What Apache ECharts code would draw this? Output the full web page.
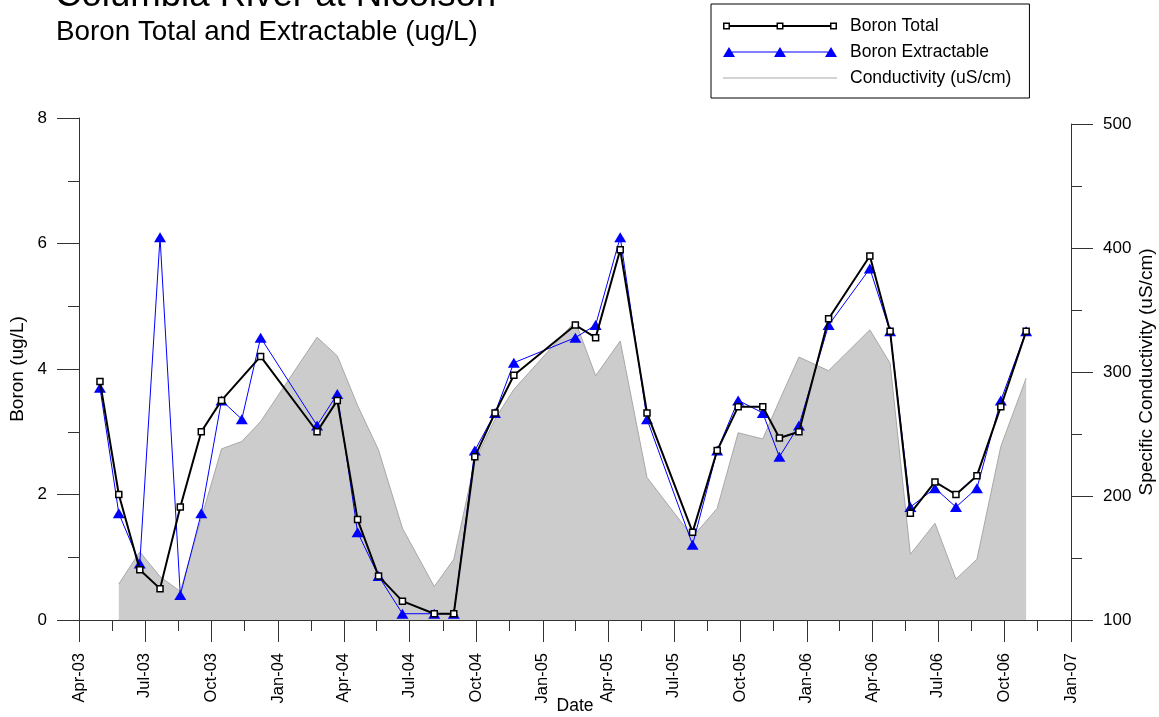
<!DOCTYPE html>
<html>
<head>
<meta charset="utf-8">
<script src="https://cdn.jsdelivr.net/npm/echarts@6/dist/echarts.min.js"></script>
<style>
  html, body { margin: 0; padding: 0; background: #ffffff; }
  #chart { width: 1159px; height: 717px; }
</style>
</head>
<body>
<div id="chart"></div>
<script>
// Sampling dates and results, Columbia River at Nicolson
const boronTotalDates = [
  '2003-04-30','2003-05-26','2003-06-24','2003-07-22','2003-08-19','2003-09-17','2003-10-15','2003-12-08',
  '2004-02-24','2004-03-23','2004-04-20','2004-05-19','2004-06-21','2004-08-04','2004-08-31','2004-09-29',
  '2004-10-27','2004-11-22','2005-02-15','2005-03-15','2005-04-18','2005-05-25','2005-07-27','2005-08-30',
  '2005-09-28','2005-11-01','2005-11-24','2005-12-21','2006-01-31','2006-03-29','2006-04-26','2006-05-24',
  '2006-06-27','2006-07-26','2006-08-24','2006-09-26','2006-10-31'
];
const boronTotal = [
  3.8, 2.0, 0.8, 0.5, 1.8, 3.0, 3.5, 4.2,
  3.0, 3.5, 1.6, 0.7, 0.3, 0.1, 0.1, 2.6,
  3.3, 3.9, 4.7, 4.5, 5.9, 3.3, 1.4, 2.7,
  3.4, 3.4, 2.9, 3.0, 4.8, 5.8, 4.6, 1.7,
  2.2, 2.0, 2.3, 3.4, 4.6
];

const boronExtDates = [
  '2003-04-30','2003-05-26','2003-06-24','2003-07-22','2003-08-19','2003-09-17','2003-10-15','2003-11-12',
  '2003-12-08','2004-02-24','2004-03-23','2004-04-20','2004-05-19','2004-06-21','2004-08-04','2004-08-31',
  '2004-09-29','2004-10-27','2004-11-22','2005-02-15','2005-03-15','2005-04-18','2005-05-25','2005-07-27',
  '2005-08-30','2005-09-28','2005-11-01','2005-11-24','2005-12-21','2006-01-31','2006-03-29','2006-04-26',
  '2006-05-24','2006-06-27','2006-07-26','2006-08-24','2006-09-26','2006-10-31'
];
const boronExtractable = [
  3.7, 1.7, 0.9, 6.1, 0.4, 1.7, 3.5, 3.2,
  4.5, 3.1, 3.6, 1.4, 0.7, 0.1, 0.1, 0.1,
  2.7, 3.3, 4.1, 4.5, 4.7, 6.1, 3.2, 1.2,
  2.7, 3.5, 3.3, 2.6, 3.1, 4.7, 5.6, 4.6,
  1.8, 2.1, 1.8, 2.1, 3.5, 4.6
];

const condDates = [
  '2003-05-26','2003-06-24','2003-07-22','2003-08-19','2003-09-17','2003-10-15','2003-11-12','2003-12-08',
  '2004-02-24','2004-03-23','2004-04-20','2004-05-19','2004-06-21','2004-08-04','2004-08-31','2004-09-29',
  '2004-10-27','2004-11-22','2005-02-15','2005-03-15','2005-04-18','2005-05-25','2005-07-27','2005-08-30',
  '2005-09-28','2005-11-01','2005-11-24','2005-12-21','2006-01-31','2006-03-29','2006-04-26','2006-05-24',
  '2006-06-27','2006-07-26','2006-08-24','2006-09-26','2006-10-31'
];
const conductivity = [
  129, 155, 135, 123, 182, 238, 244, 260,
  328, 313, 273, 237, 174, 127, 149, 228,
  262, 286, 341, 297, 325, 215, 167, 190,
  251, 246, 277, 312, 301, 334, 307, 153,
  178, 133, 149, 240, 295
];

// Quarterly date ticks on the x axis
const quarterTicks = [
  '2003-04-01','2003-07-01','2003-10-01','2004-01-01','2004-04-01','2004-07-01','2004-10-01',
  '2005-01-01','2005-04-01','2005-07-01','2005-10-01','2006-01-01','2006-04-01','2006-07-01',
  '2006-10-01','2007-01-01'
];
const monthNames = ['Jan','Feb','Mar','Apr','May','Jun','Jul','Aug','Sep','Oct','Nov','Dec'];

const FONT = '"Liberation Sans", Arial, Helvetica, sans-serif';
const AXIS_COLOR = '#333333';

const toTime = s => new Date(s + 'T00:00:00Z').getTime();
const pairs = (dates, vals) => dates.map((d, i) => [toTime(d), vals[i]]);

const quarterTimes = quarterTicks.map(toTime);
// short ticks halfway between the labelled quarters
const halfTimes = quarterTimes.slice(1).map((t, i) => (t + quarterTimes[i]) / 2);
const xMin = quarterTimes[0];
const xMax = quarterTimes[quarterTimes.length - 1];

const dateLabel = v => {
  const d = new Date(v);
  return monthNames[d.getUTCMonth()] + '-' + String(d.getUTCFullYear() % 100).padStart(2, '0');
};

// Legend glyphs: line with three markers
const totalIcon = 'path://' +
  'M0 3.5H7V10.5H0Z M1.5 5V9H5.5V5Z ' +
  'M7 6H53.5V8H7Z ' +
  'M53.5 3.5H60.5V10.5H53.5Z M55 5V9H59V5Z ' +
  'M60.5 6H107V8H60.5Z ' +
  'M107 3.5H114V10.5H107Z M108.5 5V9H112.5V5Z';
const extIcon = 'path://' +
  'M0 12L6 2L12 12Z ' +
  'M6 6.5H108V7.5H6Z ' +
  'M51 12L57 2L63 12Z ' +
  'M102 12L108 2L114 12Z';
const condIcon = 'path://M0 0H114V1H0Z';

const chart = echarts.init(document.getElementById('chart'), null, { renderer: 'canvas' });

chart.setOption({
  animation: false,
  backgroundColor: '#ffffff',
  textStyle: { fontFamily: FONT, color: '#000' },
  title: [
    {
      text: 'Columbia River at Nicolson',
      left: 55, top: -23, padding: 0,
      textStyle: { fontSize: 36.6, fontWeight: 'normal', color: '#000', fontFamily: FONT }
    },
    {
      text: 'Boron Total and Extractable (ug/L)',
      left: 56, top: 18, padding: 0,
      textStyle: { fontSize: 27.8, fontWeight: 'normal', color: '#000', fontFamily: FONT }
    }
  ],
  legend: {
    orient: 'vertical',
    left: 711, top: 4,
    padding: [13, 18, 11, 12],
    itemWidth: 114, itemHeight: 14, itemGap: 8,
    borderColor: '#000', borderWidth: 1, borderRadius: 0,
    symbolKeepAspect: true,
    selectedMode: false,
    textStyle: { fontSize: 17.5, color: '#000', fontFamily: FONT, lineHeight: 14, padding: [0, 0, 0, 8] },
    data: [
      { name: 'Boron Total', icon: totalIcon, itemStyle: { color: '#000000', borderWidth: 0 } },
      { name: 'Boron Extractable', icon: extIcon, itemStyle: { color: '#0000ff', borderWidth: 0 } },
      { name: 'Conductivity (uS/cm)', icon: condIcon, itemStyle: { color: '#a8a8a8', borderWidth: 0 } }
    ]
  },
  grid: [
    { left: 79, right: 88, top: 118, bottom: 97, containLabel: false, outerBoundsMode: 'none' },
    { left: 79, right: 88, top: 124, bottom: 97, containLabel: false, outerBoundsMode: 'none' }
  ],
  xAxis: [
    {
      type: 'value', gridIndex: 0, position: 'bottom',
      min: xMin, max: xMax,
      name: 'Date', nameLocation: 'middle', nameGap: 77, nameMoveOverlap: false,
      nameTextStyle: { fontSize: 17.5, color: '#000', fontFamily: FONT },
      axisLine: { show: true, lineStyle: { color: AXIS_COLOR, width: 1 } },
      axisTick: { show: true, inside: false, length: 22, customValues: quarterTimes,
                  lineStyle: { color: AXIS_COLOR, width: 1 } },
      axisLabel: { show: true, rotate: 90, margin: 33, fontSize: 16.5, color: '#000',
                   fontFamily: FONT, customValues: quarterTimes, formatter: dateLabel },
      splitLine: { show: false }
    },
    {
      type: 'value', gridIndex: 0, position: 'bottom',
      min: xMin, max: xMax,
      axisLine: { show: false },
      axisTick: { show: true, inside: false, length: 11, customValues: halfTimes,
                  lineStyle: { color: AXIS_COLOR, width: 1 } },
      axisLabel: { show: false },
      splitLine: { show: false }
    },
    {
      type: 'value', gridIndex: 1, position: 'bottom',
      min: xMin, max: xMax, show: false,
      splitLine: { show: false }
    }
  ],
  yAxis: [
    {
      type: 'value', gridIndex: 0, position: 'left',
      min: 0, max: 8, interval: 2,
      name: 'Boron (ug/L)', nameLocation: 'middle', nameGap: 52, nameMoveOverlap: false,
      nameTextStyle: { fontSize: 19, color: '#000', fontFamily: FONT },
      axisLine: { show: true, lineStyle: { color: AXIS_COLOR, width: 1 } },
      axisTick: { show: true, inside: false, length: 22, lineStyle: { color: AXIS_COLOR, width: 1 } },
      minorTick: { show: true, splitNumber: 2, length: 11, lineStyle: { color: AXIS_COLOR, width: 1 } },
      axisLabel: { margin: 32, fontSize: 17, color: '#000', fontFamily: FONT },
      splitLine: { show: false }
    },
    {
      type: 'value', gridIndex: 1, position: 'right',
      min: 100, max: 500, interval: 100,
      name: 'Specific Conductivity (uS/cm)', nameLocation: 'middle', nameGap: 66, nameMoveOverlap: false,
      nameTextStyle: { fontSize: 19, color: '#000', fontFamily: FONT },
      axisLine: { show: true, lineStyle: { color: AXIS_COLOR, width: 1 } },
      axisTick: { show: true, inside: false, length: 22, lineStyle: { color: AXIS_COLOR, width: 1 } },
      minorTick: { show: true, splitNumber: 2, length: 11, lineStyle: { color: AXIS_COLOR, width: 1 } },
      axisLabel: { margin: 32, fontSize: 17, color: '#000', fontFamily: FONT },
      splitLine: { show: false }
    }
  ],
  series: [
    {
      name: 'Conductivity (uS/cm)',
      type: 'line',
      xAxisIndex: 2, yAxisIndex: 1,
      data: pairs(condDates, conductivity),
      symbol: 'none',
      itemStyle: { color: '#a8a8a8' },
      lineStyle: { color: '#a8a8a8', width: 1 },
      areaStyle: { color: '#cccccc', opacity: 1, origin: 'start' },
      silent: true,
      z: 1
    },
    {
      name: 'Boron Extractable',
      type: 'line',
      xAxisIndex: 0, yAxisIndex: 0,
      data: pairs(boronExtDates, boronExtractable),
      symbol: 'triangle', symbolSize: [12, 10],
      itemStyle: { color: '#0000ff' },
      lineStyle: { color: '#0000ff', width: 1 },
      z: 3
    },
    {
      name: 'Boron Total',
      type: 'line',
      xAxisIndex: 0, yAxisIndex: 0,
      data: pairs(boronTotalDates, boronTotal),
      symbol: 'rect', symbolSize: 6,
      itemStyle: { color: '#ffffff', borderColor: '#000000', borderWidth: 1.5 },
      lineStyle: { color: '#000000', width: 2 },
      z: 4
    }
  ]
});
</script>
</body>
</html>
